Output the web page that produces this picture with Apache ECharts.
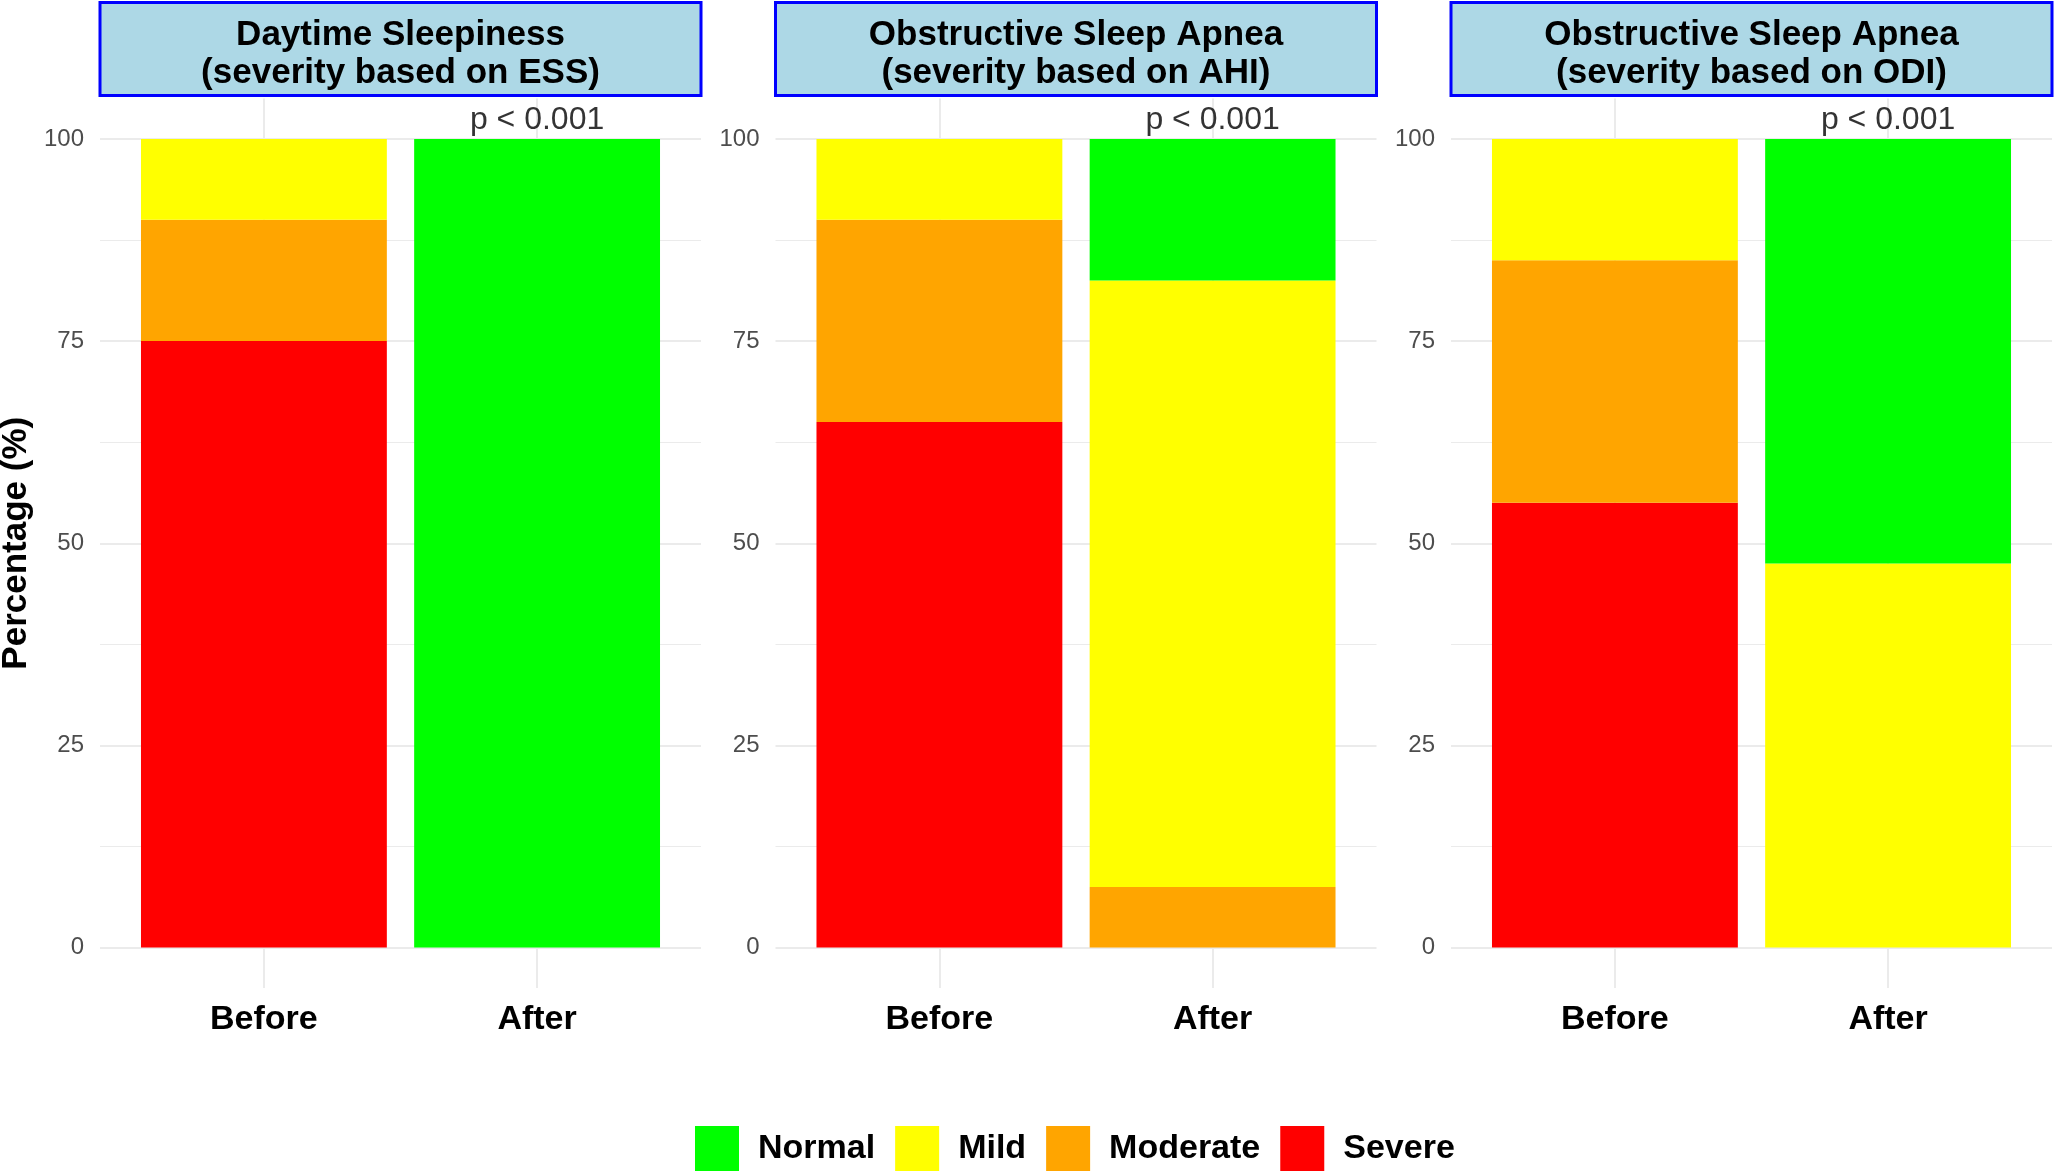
<!DOCTYPE html>
<html><head><meta charset="utf-8">
<script src="https://cdn.jsdelivr.net/npm/echarts@6/dist/echarts.min.js"></script>
<style>html,body{margin:0;padding:0;background:#fff}#c{width:2056px;height:1171px}</style>
</head><body><div id="c"></div>
<script>
// ---- data ----
const panelTitles = [
  'Daytime Sleepiness\n(severity based on ESS)',
  'Obstructive Sleep Apnea\n(severity based on AHI)',
  'Obstructive Sleep Apnea\n(severity based on ODI)'
];
const timepoints = ['Before', 'After'];
const legendOrder = ['Normal', 'Mild', 'Moderate', 'Severe'];
// percentage per panel: [Before, After]
const severe   = [[75, 0],  [65, 0],    [55, 0]];
const moderate = [[15, 0],  [25, 7.5],  [30, 0]];
const mild     = [[10, 0],  [10, 75],   [15, 47.5]];
const normal   = [[0, 100], [0, 17.5],  [0, 52.5]];
const pLabels  = ['p < 0.001', 'p < 0.001', 'p < 0.001'];
const yTicks      = [0, 25, 50, 75, 100];
const yMinorTicks = [12.5, 37.5, 62.5, 87.5];

// ---- style ----
const FONT = '"Liberation Sans", Arial, sans-serif';
const colors = {Normal: '#00FF00', Mild: '#FFFF00', Moderate: '#FFA500', Severe: '#FF0000'};
const stackOrder = [['Severe', severe], ['Moderate', moderate], ['Mild', mild], ['Normal', normal]];
const panelLefts = [100, 775.5, 1451];
const panelWidth = 601;
const gridTop = 98.5, gridHeight = 889.5;
const xPos = timepoints.map((t, i) => i + 1);

const grids = [], xAxes = [], yAxes = [], series = [], graphics = [];
panelLefts.forEach((L, p) => {
  grids.push({left: L, top: gridTop, width: panelWidth, height: gridHeight,
    outerBoundsMode: 'none', containLabel: false});
  xAxes.push({
    type: 'value', gridIndex: p, min: 0.4, max: 2.6,
    axisLine: {show: false, onZero: false},
    axisTick: {show: false, customValues: xPos},
    splitLine: {show: true, lineStyle: {color: '#EBEBEB', width: 2}},
    axisLabel: {customValues: xPos, formatter: v => timepoints[Math.round(v) - 1],
      fontFamily: FONT, fontSize: 34, fontWeight: 'bold', color: '#000', margin: 15}
  });
  yAxes.push({
    type: 'value', gridIndex: p, min: -5, max: 105, position: 'left',
    name: p === 0 ? 'Percentage (%)' : '', nameLocation: 'middle', nameGap: 66,
    nameTextStyle: {fontFamily: FONT, fontSize: 35, fontWeight: 'bold', color: '#000'},
    axisLine: {show: false}, axisTick: {show: false, customValues: yTicks},
    splitLine: {show: true, lineStyle: {color: '#EBEBEB', width: 2}},
    axisLabel: {customValues: yTicks, fontFamily: FONT, fontSize: 24, color: '#4D4D4D', margin: 16}
  });
  yAxes.push({
    type: 'value', gridIndex: p, min: -5, max: 105, position: 'right',
    axisLine: {show: false}, axisTick: {show: false, customValues: yMinorTicks},
    axisLabel: {show: false},
    splitLine: {show: true, lineStyle: {color: '#EBEBEB', width: 1.2}}
  });
  stackOrder.forEach(([name, arr]) => {
    series.push({
      type: 'bar', name, xAxisIndex: p, yAxisIndex: 2 * p, stack: 'panel' + p,
      barWidth: '90%', itemStyle: {color: colors[name]},
      encode: {x: 1, y: 0},
      data: xPos.map((x, i) => [arr[p][i], x])
    });
  });
  series.push({
    type: 'scatter', name: 'pvalue' + p, xAxisIndex: p, yAxisIndex: 2 * p, silent: true,
    symbolSize: 2, itemStyle: {color: 'rgba(0,0,0,0)'},
    data: [[xPos[1], 100]],
    label: {show: true, position: 'top', distance: 2, formatter: pLabels[p],
      fontFamily: FONT, fontSize: 32, color: '#000'}
  });
  graphics.push({
    type: 'rect', shape: {x: L, y: 2.5, width: panelWidth, height: 93},
    style: {fill: '#ADD8E6', stroke: '#0000FF', lineWidth: 3}
  });
  graphics.push({
    type: 'text', x: L + panelWidth / 2, y: 54,
    style: {text: panelTitles[p], font: 'bold 35px ' + FONT, fill: '#000',
      align: 'center', verticalAlign: 'middle', lineHeight: 38}
  });
});

const chart = echarts.init(document.getElementById('c'));
chart.setOption({
  animation: false,
  backgroundColor: '#fff',
  grid: grids, xAxis: xAxes, yAxis: yAxes, series,
  graphic: graphics,
  legend: {
    data: legendOrder, left: 690, top: 1121, icon: 'rect',
    itemWidth: 44, itemHeight: 45, itemGap: 20,
    textStyle: {fontFamily: FONT, fontSize: 34, fontWeight: 'bold', color: '#000', padding: [0, 0, 0, 14]}
  }
});
</script></body></html>
